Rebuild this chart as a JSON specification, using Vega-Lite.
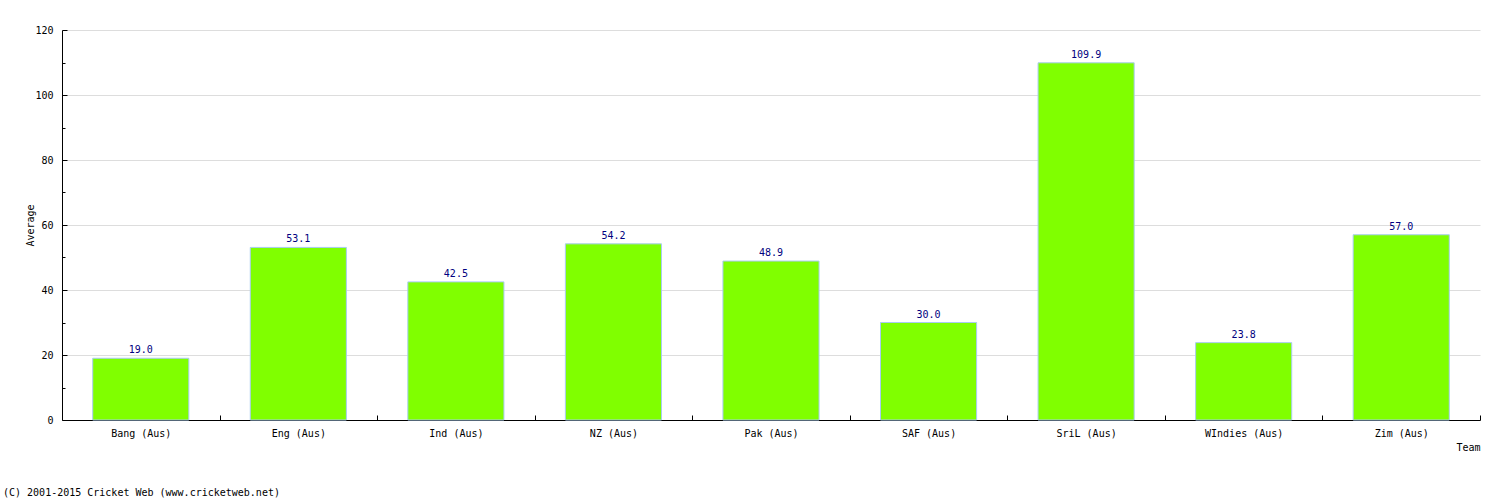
{
  "$schema": "https://vega.github.io/schema/vega-lite/v6.json",
  "width": 1418,
  "height": 390,
  "autosize": {"type": "none"},
  "padding": {"left": 62, "top": 30, "right": 20, "bottom": 80},
  "background": "white",
  "config": {"view": {"stroke": null}, "font": "DejaVu Sans Mono"},
  "title": {
    "text": "(C) 2001-2015 Cricket Web (www.cricketweb.net)",
    "orient": "bottom",
    "anchor": "start",
    "frame": "group",
    "fontSize": 10,
    "fontWeight": "normal",
    "font": "DejaVu Sans Mono",
    "color": "black",
    "dx": -59,
    "offset": 36
  },
  "data": {
    "values": [
      {"team": "Bang (Aus)", "average": 19.0},
      {"team": "Eng (Aus)", "average": 53.1},
      {"team": "Ind (Aus)", "average": 42.5},
      {"team": "NZ (Aus)", "average": 54.2},
      {"team": "Pak (Aus)", "average": 48.9},
      {"team": "SAF (Aus)", "average": 30.0},
      {"team": "SriL (Aus)", "average": 109.9},
      {"team": "WIndies (Aus)", "average": 23.8},
      {"team": "Zim (Aus)", "average": 57.0}
    ]
  },
  "encoding": {
    "x": {
      "field": "team",
      "type": "nominal",
      "sort": null,
      "scale": {"paddingInner": 0.39, "paddingOuter": 0.195},
      "axis": {
        "title": "Team",
        "titleAnchor": "end",
        "titleAlign": "right",
        "titleFontSize": 10,
        "titleFontWeight": "normal",
        "titleColor": "black",
        "titlePadding": 4,
        "labelAngle": 0,
        "labelFontSize": 10,
        "labelColor": "black",
        "labelPadding": 13,
        "tickOffset": 78.78,
        "labelOffset": -78.78,
        "tickSize": -5,
        "tickColor": "black",
        "domainColor": "black",
        "grid": false
      }
    },
    "y": {
      "field": "average",
      "type": "quantitative",
      "scale": {"domain": [0, 120], "nice": false},
      "axis": {
        "title": "Average",
        "titleFontSize": 10,
        "titleFontWeight": "normal",
        "titleColor": "black",
        "titlePadding": -1,
        "values": [0, 10, 20, 30, 40, 50, 60, 70, 80, 90, 100, 110, 120],
        "labelExpr": "datum.value % 20 == 0 ? datum.label : ''",
        "labelFontSize": 10,
        "labelColor": "black",
        "labelPadding": 14,
        "tickSize": {"condition": {"test": "datum.value % 20 == 0", "value": -5}, "value": -3},
        "tickColor": "black",
        "domainColor": "black",
        "grid": true,
        "gridColor": "#dddddd",
        "gridOpacity": {"condition": {"test": "datum.value % 20 == 0 && datum.value > 0", "value": 1}, "value": 0}
      }
    }
  },
  "layer": [
    {"mark": {"type": "bar", "fill": "#80ff00", "stroke": "#a8ccf0", "strokeWidth": 1}},
    {
      "mark": {"type": "text", "color": "#000080", "fontSize": 10, "baseline": "bottom", "dy": -3},
      "encoding": {"text": {"field": "average", "type": "quantitative", "format": ".1f"}}
    }
  ]
}
